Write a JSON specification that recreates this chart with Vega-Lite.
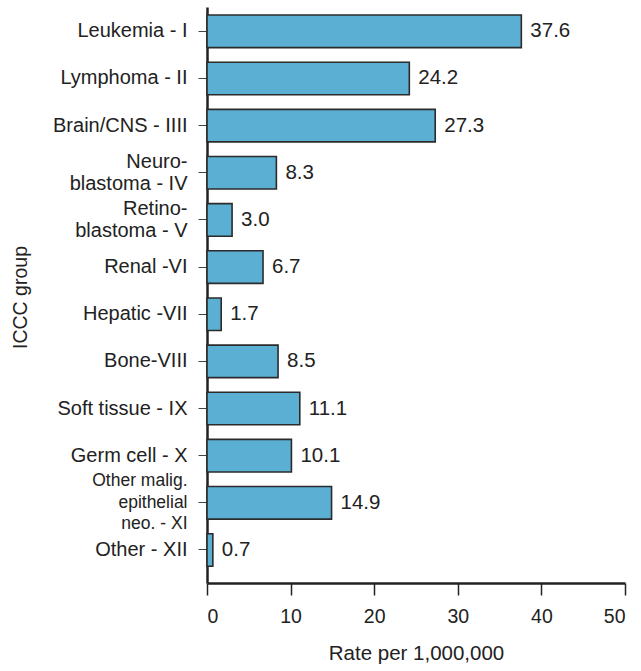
{
  "$schema": "https://vega.github.io/schema/vega-lite/v6.json",
  "width": 418,
  "height": 576,
  "autosize": "none",
  "padding": {"left": 207, "top": 7, "right": 16, "bottom": 88},
  "background": "white",
  "config": {"view": {"stroke": null}, "font": "Liberation Sans"},
  "data": {
    "values": [
      {"group": "Leukemia - I", "rate": 37.6},
      {"group": "Lymphoma - II", "rate": 24.2},
      {"group": "Brain/CNS - IIII", "rate": 27.3},
      {"group": "Neuroblastoma - IV", "rate": 8.3},
      {"group": "Retinoblastoma - V", "rate": 3.0},
      {"group": "Renal -VI", "rate": 6.7},
      {"group": "Hepatic -VII", "rate": 1.7},
      {"group": "Bone-VIII", "rate": 8.5},
      {"group": "Soft tissue - IX", "rate": 11.1},
      {"group": "Germ cell - X", "rate": 10.1},
      {"group": "Other malig. epithelial neo. - XI", "rate": 14.9},
      {"group": "Other - XII", "rate": 0.7}
    ]
  },
  "encoding": {
    "y": {
      "field": "group",
      "type": "nominal",
      "sort": null,
      "scale": {"paddingInner": 0.31, "paddingOuter": 0.263, "align": 0.325},
      "axis": {
        "title": "ICCC group",
        "titleFontSize": 19.5,
        "titleFontWeight": "normal",
        "titleColor": "#222",
        "titleAngle": -90,
        "titleX": -187,
        "titleY": 290,
        "titleAlign": "center",
        "titleBaseline": "middle",
        "labelExpr": "datum.value == 'Neuroblastoma - IV' ? ['Neuro-', 'blastoma - IV'] : datum.value == 'Retinoblastoma - V' ? ['Retino-', 'blastoma - V'] : datum.value == 'Other malig. epithelial neo. - XI' ? ['Other malig.', 'epithelial', 'neo. - XI'] : datum.value",
        "labelFontSize": {"condition": {"test": "datum.value == 'Other malig. epithelial neo. - XI'", "value": 17.5}, "value": 20},
        "labelLineHeight": {"condition": {"test": "datum.value == 'Other malig. epithelial neo. - XI'", "value": 21.5}, "value": 21.5},
        "labelOffset": {"condition": [
          {"test": "datum.value == 'Other malig. epithelial neo. - XI'", "value": -21.5},
          {"test": "datum.value == 'Neuroblastoma - IV' || datum.value == 'Retinoblastoma - V'", "value": -10.5}
        ], "value": 0},
        "labelColor": "#222",
        "labelPadding": 11,
        "labelLimit": 300,
        "tickSize": 9,
        "tickColor": "#444",
        "tickWidth": 1,
        "domainColor": "#222",
        "domainWidth": 2.5
      }
    }
  },
  "layer": [
    {
      "mark": {"type": "bar", "fill": "#5AAFD3", "stroke": "#2b2b2b", "strokeWidth": 1.6},
      "encoding": {
        "x": {
          "field": "rate",
          "type": "quantitative",
          "scale": {"domain": [0, 50], "nice": false},
          "axis": {
            "values": [0, 10, 20, 30, 40, 50],
            "grid": false,
            "title": "Rate per 1,000,000",
            "titleFontSize": 20.5,
            "titleFontWeight": "normal",
            "titleColor": "#222",
            "titlePadding": 18,
            "labelFontSize": 19.5,
            "labelColor": "#222",
            "labelPadding": 12,
            "tickSize": 12,
            "tickWidth": 1.5,
            "tickColor": "#222",
            "domainColor": "#222",
            "domainWidth": 2.5
          }
        }
      }
    },
    {
      "mark": {"type": "text", "align": "left", "baseline": "middle", "dx": 9, "fontSize": 20.5, "color": "#222"},
      "encoding": {
        "x": {"field": "rate", "type": "quantitative"},
        "text": {"field": "rate", "type": "quantitative", "format": ".1f"}
      }
    }
  ]
}
